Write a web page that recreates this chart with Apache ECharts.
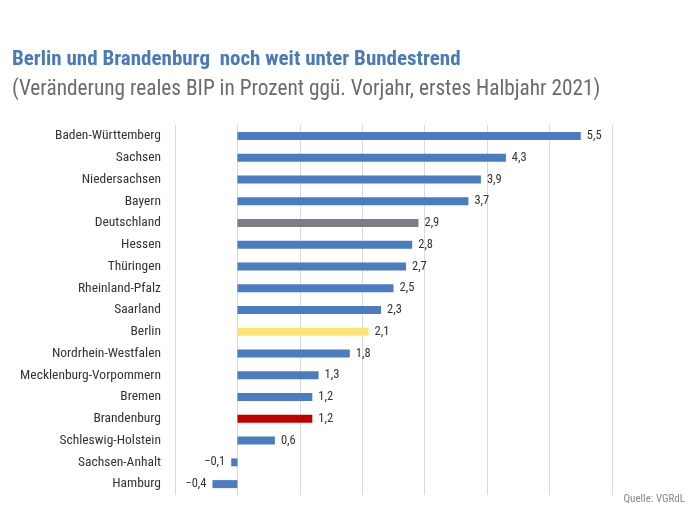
<!DOCTYPE html>
<html><head><meta charset="utf-8">
<script src="https://cdn.jsdelivr.net/npm/echarts@6/dist/echarts.min.js"></script>
<style>body{margin:0}#c{width:700px;height:525px}</style></head>
<body><div id="c"></div>
<script>
const categories = ["Baden-Württemberg","Sachsen","Niedersachsen","Bayern","Deutschland","Hessen","Thüringen","Rheinland-Pfalz","Saarland","Berlin","Nordrhein-Westfalen","Mecklenburg-Vorpommern","Bremen","Brandenburg","Schleswig-Holstein","Sachsen-Anhalt","Hamburg"];
const values = [5.5,4.3,3.9,3.7,2.9,2.8,2.7,2.5,2.3,2.1,1.8,1.3,1.2,1.2,0.6,-0.1,-0.4];
const colors = {"Deutschland":"#7a7e85","Berlin":"#fde372","Brandenburg":"#c00000"};
const F = "'Liberation Sans Narrow','Roboto Condensed','Noto Sans',sans-serif";
const chart = echarts.init(document.getElementById('c'));
chart.setOption({
  animation:false,
  title:[
    {text:"Berlin und Brandenburg  noch weit unter Bundestrend",left:7,top:44,textStyle:{fontFamily:F,fontSize:21,fontWeight:'bold',color:'#4a7ab8'}},
    {text:"(Veränderung reales BIP in Prozent ggü. Vorjahr, erstes Halbjahr 2021)",left:7,top:74,textStyle:{fontFamily:F,fontSize:21.3,fontWeight:'normal',color:'#6b6b6b'}},
    {text:"Quelle: VGRdL",right:10,top:489,textStyle:{fontFamily:F,fontSize:11,fontWeight:'normal',color:'#888'}}
  ],
  grid:{left:175,right:88,top:125,bottom:30},
  xAxis:{type:'value',min:-1,max:6,interval:1,axisLabel:{show:false},axisLine:{show:false},axisTick:{show:false},splitLine:{lineStyle:{color:'#d9d9d9'}}},
  yAxis:{type:'category',inverse:true,data:categories,axisLine:{show:false},axisTick:{show:false},
    axisLabel:{fontFamily:F,fontSize:13.5,color:'#333',margin:14}},
  series:[{type:'bar',barWidth:8,
    data:values.map((v,i)=>({value:v,itemStyle:{color:colors[categories[i]]||'#4a7dbf'},
      label:{position:v<0?'left':'right'}})),
    label:{show:true,fontFamily:F,fontSize:12.5,color:'#333',distance:6,
      formatter:p=>(p.value<0?'\u2212':'')+Math.abs(p.value).toFixed(1).replace('.',',')}}]
});
</script></body></html>
